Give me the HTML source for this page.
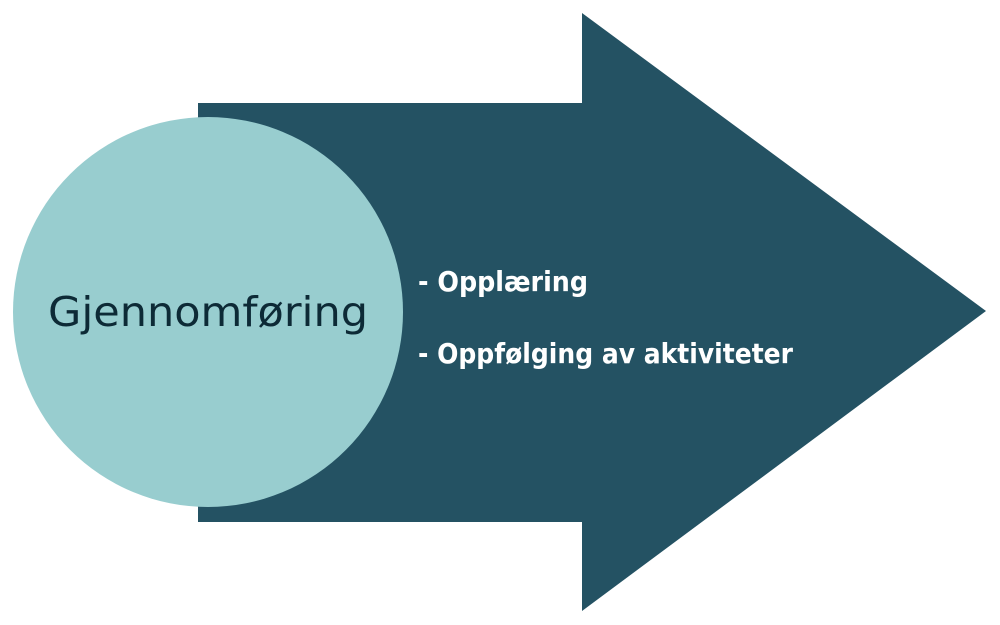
<!DOCTYPE html>
<html><head><meta charset="utf-8"><style>
html,body{margin:0;padding:0;background:#fff;width:1000px;height:625px;overflow:hidden}
svg{display:block}
</style></head><body>
<svg width="1000" height="625" viewBox="0 0 1000 625" xmlns="http://www.w3.org/2000/svg">
<polygon points="198,103 582,103 582,13 986,311 582,611 582,522 198,522" fill="#245263"/>
<circle cx="208" cy="312" r="195" fill="#98cdcf"/>
<text x="48" y="326" textLength="320" lengthAdjust="spacingAndGlyphs" font-family="DejaVu Sans, sans-serif" font-size="41" fill="#0d2a36">Gjennomføring</text>
<text x="418" y="291" textLength="170" lengthAdjust="spacingAndGlyphs" font-family="DejaVu Sans, sans-serif" font-size="28" font-weight="bold" fill="#ffffff">- Opplæring</text>
<text x="418" y="363" textLength="375" lengthAdjust="spacingAndGlyphs" font-family="DejaVu Sans, sans-serif" font-size="28" font-weight="bold" fill="#ffffff">- Oppfølging av aktiviteter</text>
</svg>
</body></html>
